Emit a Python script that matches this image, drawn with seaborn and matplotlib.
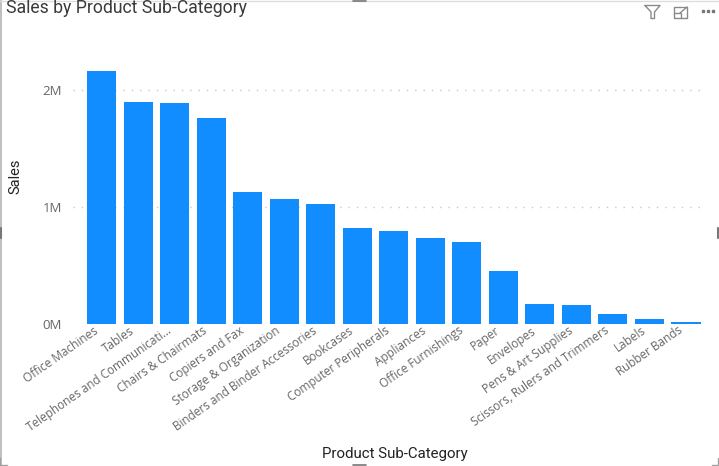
import matplotlib
matplotlib.use("Agg")
import matplotlib.pyplot as plt
from matplotlib.lines import Line2D
from matplotlib.patches import Rectangle
from matplotlib.transforms import ScaledTranslation
import seaborn as sns
import pandas as pd

W, H = 719, 466

categories = ["Office Machines", "Tables", "Telephones and Communicati...", "Chairs & Chairmats",
              "Copiers and Fax", "Storage & Organization", "Binders and Binder Accessories",
              "Bookcases", "Computer Peripherals", "Appliances", "Office Furnishings", "Paper",
              "Envelopes", "Pens & Art Supplies", "Scissors, Rulers and Trimmers", "Labels",
              "Rubber Bands"]
sales = [2165000, 1895000, 1886000, 1760000, 1130000, 1070000, 1025000, 820000, 795000,
         735000, 700000, 450000, 172000, 165000, 85000, 40000, 17000]
y_ticks = [0, 1000000, 2000000]
y_tick_labels = ["0M", "1M", "2M"]

sns.set_theme(style="white")
plt.rcParams['font.family'] = ['Open Sans', 'DejaVu Sans']

df = pd.DataFrame({"Product Sub-Category": categories, "Sales": sales})

fig = plt.figure(figsize=(W / 100, H / 100), dpi=100, facecolor="white")
# axes box in pixels: x 73-707, y 60-324
ax = fig.add_axes([72.8 / W, 1 - 324 / H, 634 / W, 264 / H])

sns.barplot(data=df, x="Product Sub-Category", y="Sales", color="#118DFF", saturation=1,
            width=0.795, linewidth=0, ax=ax, zorder=3)

ax.set_xlim(-0.795, 16.57)
ax.set_ylim(0, 2256000)
ax.set_yticks(y_ticks)
ax.set_yticklabels(y_tick_labels, fontsize=9.5, color="#666666")
ax.set_xticks(range(len(categories)))
ax.set_xticklabels(categories, rotation=35, ha="right", rotation_mode="anchor",
                   fontsize=8.5, color="#666666")
ax.tick_params(axis="both", length=0)
ax.tick_params(axis="x", pad=0)
ax.tick_params(axis="y", pad=8)
# labels sit a little left of their bars
shift = ScaledTranslation(-9 / 100, 0, fig.dpi_scale_trans)
for lab in ax.get_xticklabels():
    lab.set_transform(lab.get_transform() + shift)
ax.yaxis.grid(True, color="#C8C8C8", linestyle=(0, (1, 5)), linewidth=1)
ax.set_axisbelow(True)
for s in ax.spines.values():
    s.set_visible(False)
ax.set_xlabel("")
ax.set_ylabel("")

# titles
fig.text(6 / W, 1 - 8 / H, "Sales by Product Sub-Category", fontsize=12.7, color="#3A3A3A",
         family=["Roboto", "DejaVu Sans"], va="center", ha="left")
fig.text(394.5 / W, 1 - 454 / H, "Product Sub-Category", fontsize=10.8, color="#222222",
         family=["Roboto", "DejaVu Sans"], va="center", ha="center")
fig.text(15 / W, 1 - 176 / H, "Sales", fontsize=10.5, color="#222222", rotation=90,
         family=["Roboto", "DejaVu Sans"], va="center", ha="center")


def px_line(xs, ys, color="#8A8A8A", lw=1.0):
    fig.add_artist(Line2D([x / W for x in xs], [1 - y / H for y in ys], color=color, lw=lw))


# filter icon
px_line([645, 660, 654.5, 654.5, 651, 651, 645], [5.5, 5.5, 12, 18.5, 18.5, 12, 5.5])
# focus icon
px_line([682, 674, 674, 687, 687], [7, 7, 18, 18, 12])
px_line([674, 681, 681], [13, 13, 18])
px_line([680, 687], [13, 7])
px_line([683, 687, 687], [7, 7, 10.5])
# more dots
for x in [702, 707, 712]:
    fig.add_artist(Rectangle((x / W, 1 - 11.5 / H), 1.6 / W, 1.6 / H, color="#777777",
                             transform=fig.transFigure))

# visual frame and handles
px_line([0.5, 0.5], [0, 466], color="#B4B4B4", lw=1.2)
px_line([0, 719], [0.5, 0.5], color="#DDDDDD", lw=1)
px_line([0, 0, 7], [458, 465, 465], color="#A0A0A0", lw=1)
px_line([712, 718, 718], [465, 465, 458], color="#A0A0A0", lw=1)
px_line([0.8, 0.8], [228, 238], color="#777777", lw=1.5)
px_line([718, 718], [228, 238], color="#777777", lw=1.5)
px_line([353, 366], [0.5, 0.5], color="#777777", lw=1.2)
px_line([353, 366], [465.3, 465.3], color="#777777", lw=1.2)

fig.savefig("out.png", dpi=100)
